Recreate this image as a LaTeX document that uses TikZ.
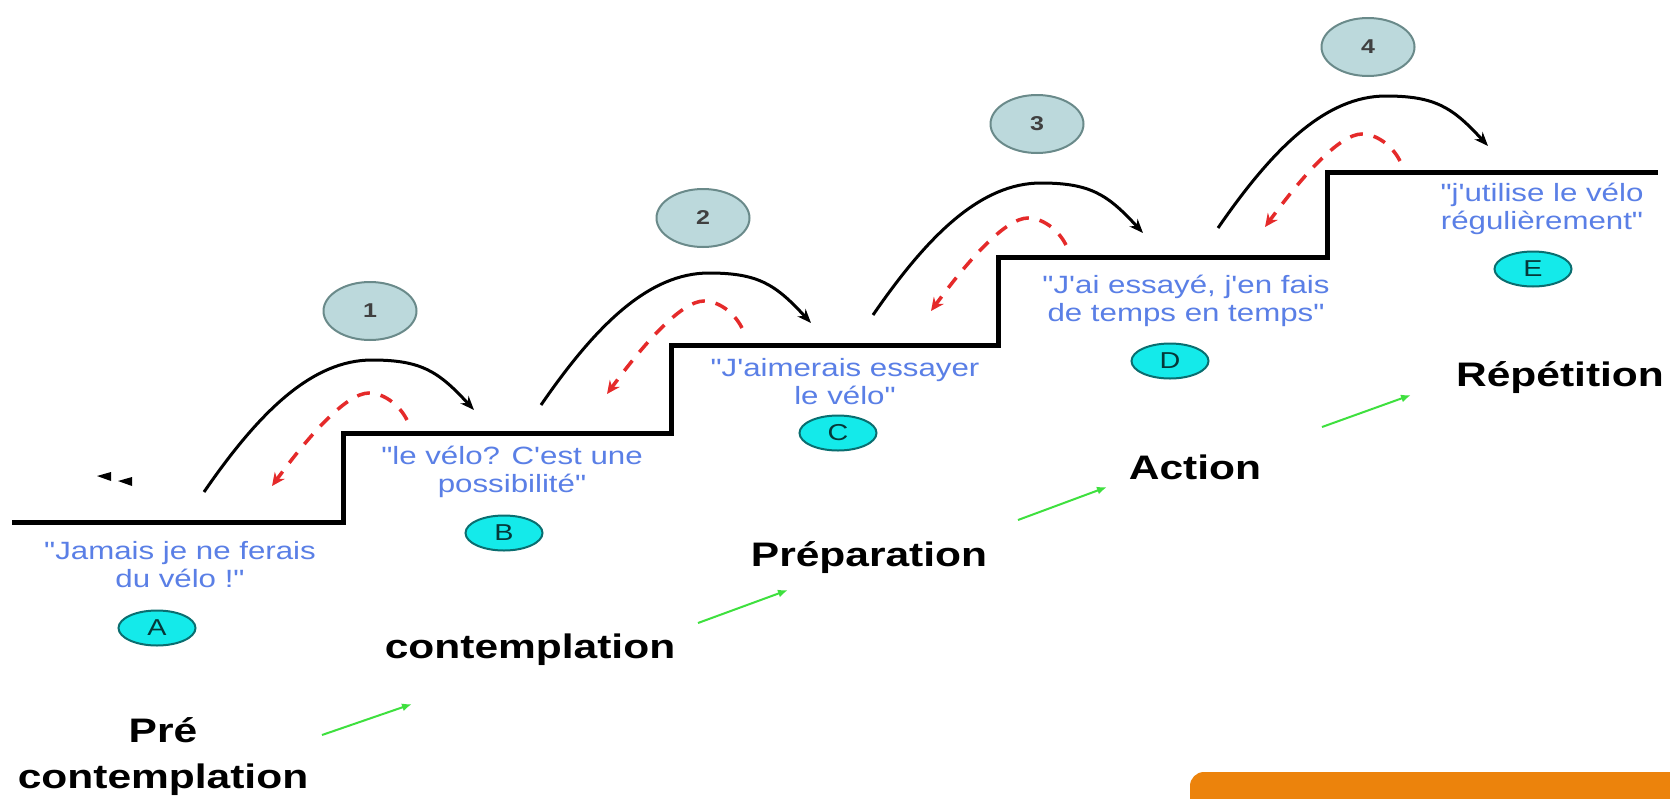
\documentclass[tikz,border=0pt]{standalone}
\usepackage{fontspec}
\setmainfont{Liberation Sans}
\newfontfamily\widefont[FakeStretch=1.25]{Liberation Sans}
\usepackage{xcolor}
\usetikzlibrary{shapes.geometric,arrows.meta}

\definecolor{quoteblue}{HTML}{5A7FE6}
\definecolor{badgefill}{HTML}{BCD9DC}
\definecolor{badgeline}{HTML}{6A8A8A}
\definecolor{lettercyan}{HTML}{14EAEA}
\definecolor{letterline}{HTML}{0A6E70}
\definecolor{backred}{HTML}{E52A2A}
\definecolor{stagegreen}{HTML}{3EE03E}
\definecolor{boxorange}{HTML}{EC830C}

\begin{document}
\begin{tikzpicture}[x=1pt, y=-1pt,
    stair/.style={line width=5pt, line join=miter},
    jump/.style={line width=3pt, -{Stealth[length=14pt,width=11pt]}},
    fallback/.style={backred, line width=3.5pt, dash pattern=on 13pt off 11pt, -{Stealth[length=13pt,width=12pt]}},
    progress/.style={stagegreen, line width=2pt, -{Latex[length=10pt,width=8pt]}},
    badge/.style={ellipse, draw=badgeline, fill=badgefill, line width=2pt, minimum width=93pt, minimum height=58pt, inner sep=0pt, text=black!75, font=\widefont\bfseries\fontsize{20}{20}\selectfont},
    letter/.style={ellipse, draw=letterline, fill=lettercyan, line width=2pt, minimum width=77pt, minimum height=35pt, inner sep=0pt, text=letterline!50!black, font=\widefont\fontsize{23}{23}\selectfont},
    saying/.style={align=center, text=quoteblue, font=\widefont\fontsize{25}{28}\selectfont},
    stage/.style={align=center, font=\widefont\bfseries\fontsize{34}{46}\selectfont}]
    \useasboundingbox (0,0) rectangle (1670,798);
    \fill[white] (0,0) rectangle (1670,798);

    % stairs
    \draw[stair] (12,522) -- (343,522) -- (343,433) -- (671,433) -- (671,345)
        -- (998,345) -- (998,257) -- (1327,257) -- (1327,172) -- (1658,172);

    % jumps up, falls back, numbered badges
    \foreach \sx/\sy/\rx/\ry/\n/\bx/\by in {204/492/407/420/1/370/311, 541/405/742/328/2/703/218,
        873/315/1066/245/3/1037/124, 1218/228/1400/161/4/1368/47}{
        \coordinate (up\n) at (\sx,\sy);
        \coordinate (back\n) at (\rx,\ry);
        \draw[jump] (up\n) .. controls +(55,-80) and +(-60,0) .. ++(168,-132)
            .. controls +(50,0) and +(-35,-38) .. ++(102,50);
        \draw[fallback] (back\n) .. controls +(-8,-16) and +(14,0) .. ++(-38,-27)
            .. controls +(-22,0) and +(38,-52) .. ++(-97,93);
        \node[badge] (badge\n) at (\bx,\by) {\n};
    }

    % small arrowheads
    \fill (97,476) -- (111,472) -- (111,481) -- cycle;
    \fill (118,481) -- (132,477) -- (132,486) -- cycle;

    % letters
    \foreach \l/\lx/\ly in {A/157/628, B/504/533, C/838/433, D/1170/361, E/1533/269}
        \node[letter] (\l) at (\lx,\ly) {\l};

    % what people say
    \node[saying] (sayA) at (180,565) {"Jamais je ne ferais\\du vélo !"};
    \node[saying] (sayB) at (512,472) {"le vélo? C'est une\\possibilité"};
    \node[saying] (sayC) at (845,382) {"J'aimerais essayer\\le vélo"};
    \node[saying] (sayD) at (1186,301) {"J'ai essayé, j'en fais\\de temps en temps"};
    \node[saying] (sayE) at (1542,209) {"j'utilise le vélo\\régulièrement"};

    % stages
    \node[stage] (precont) at (163,757) {Pré\\contemplation};
    \node[stage] (cont) at (530,650) {contemplation};
    \node[stage] (prep) at (869,558) {Préparation};
    \node[stage] (act) at (1195,467) {Action};
    \node[stage] (rep) at (1560,378) {Répétition};

    \foreach \i/\ax/\ay/\bx/\by in {1/322/735/412/704, 2/698/623/788/590, 3/1018/520/1107/487, 4/1322/427/1411/395}{
        \coordinate (gfrom\i) at (\ax,\ay);
        \coordinate (gto\i) at (\bx,\by);
        \draw[progress] (gfrom\i) -- (gto\i);
    }

    % orange box, cut by the page
    \begin{scope}
        \clip (0,0) rectangle (1670,798);
        \fill[boxorange, rounded corners=14pt] (1190,772) rectangle (1700,840);
    \end{scope}
\end{tikzpicture}
\end{document}
